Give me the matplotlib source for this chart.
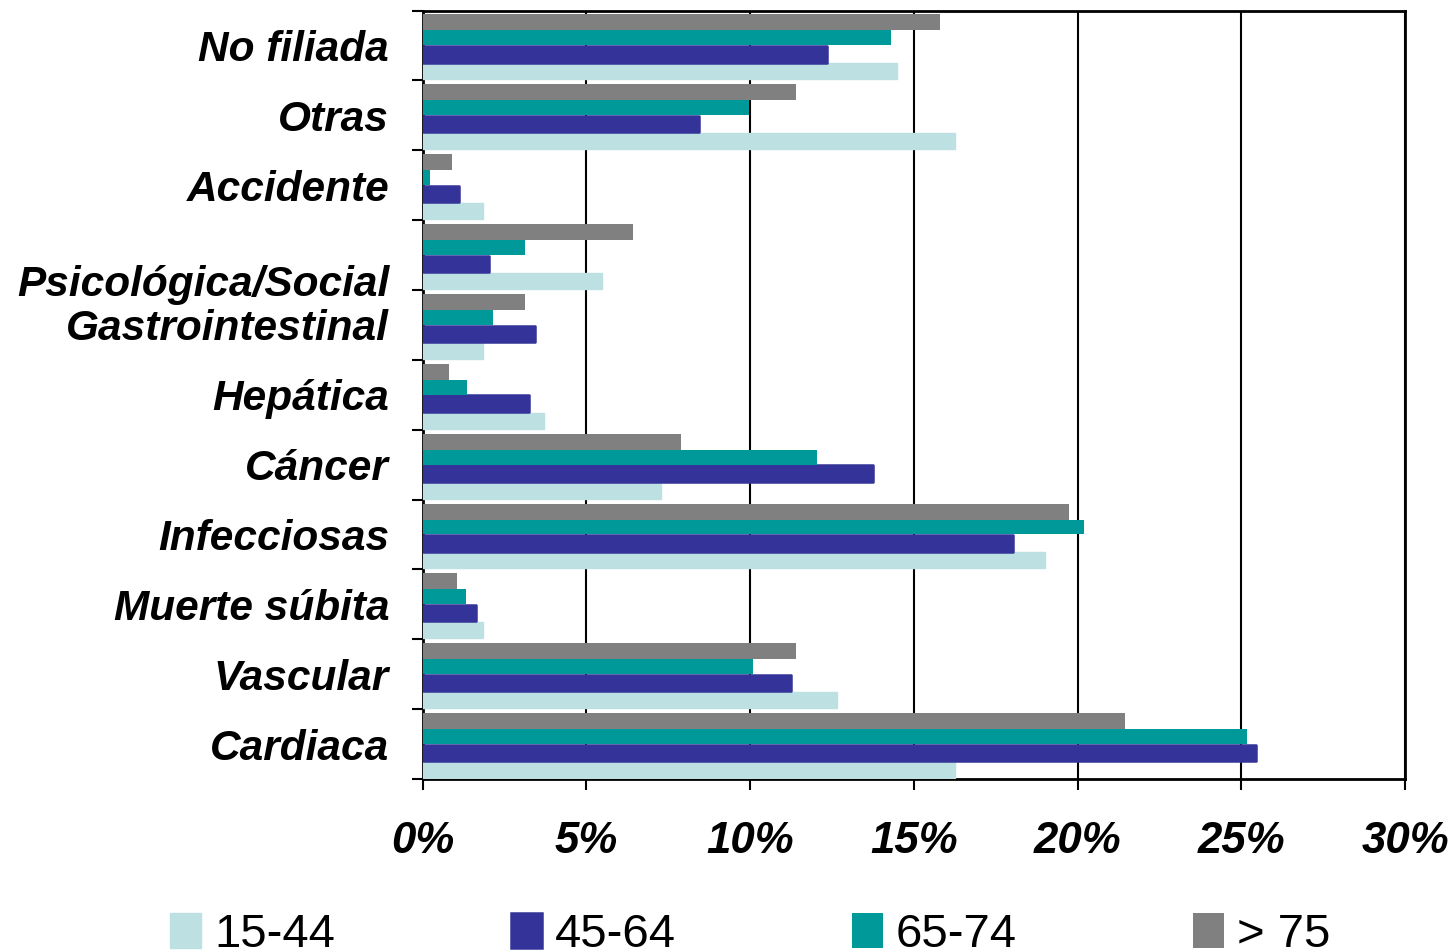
import matplotlib
matplotlib.use("Agg")
import matplotlib.pyplot as plt
import matplotlib.transforms as mtransforms
import numpy as np

categories = ["Cardiaca", "Vascular", "Muerte súbita", "Infecciosas", "Cáncer",
              "Hepática", "Gastrointestinal", "Psicológica/Social", "Accidente",
              "Otras", "No filiada"]
series_names = ["15-44", "45-64", "65-74", "> 75"]
v_15_44 = [16.26, 12.66, 1.85, 19.0, 7.28, 3.7, 1.85, 5.47, 1.85, 16.26, 14.5]
v_45_64 = [25.45, 11.25, 1.62, 18.03, 13.76, 3.25, 3.44, 2.03, 1.1, 8.44, 12.35]
v_65_74 = [25.18, 10.1, 1.33, 20.2, 12.05, 1.35, 2.14, 3.12, 0.23, 9.97, 14.3]
v_gt75 = [21.45, 11.4, 1.05, 19.74, 7.9, 0.8, 3.12, 6.42, 0.9, 11.4, 15.8]
xticks = [0, 5, 10, 15, 20, 25, 30]
xticklabels = ["0%", "5%", "10%", "15%", "20%", "25%", "30%"]

c_light = "#BDE0E3"
c_blue = "#333399"
c_teal = "#009999"
c_gray = "#808080"

fig = plt.figure(figsize=(14.51, 9.51), dpi=100)
ax = fig.add_axes([422.5 / 1451, 1 - 779 / 951, (1405 - 422.5) / 1451, (779 - 10.5) / 951])

y = np.arange(len(categories))
h_light = ax.barh(y - 0.486, v_15_44, height=0.229, align="edge", color=c_light,
                  edgecolor=c_light, linewidth=1.0, joinstyle="round", zorder=3)
h_blue = ax.barh(y - 0.245, v_45_64, height=0.235, align="edge", color=c_blue,
                 edgecolor=c_blue, linewidth=1.8, joinstyle="round", zorder=4)
h_teal = ax.barh(y, v_65_74, height=0.214, align="edge", color=c_teal,
                 linewidth=0, zorder=5)
h_gray = ax.barh(y + 0.214, v_gt75, height=0.229, align="edge", color=c_gray,
                 linewidth=0, zorder=5)

ax.set_xlim(0, 30)
ax.set_ylim(-0.5, len(categories) - 0.5)
ax.set_xticks(xticks)
ax.set_xticklabels(xticklabels, fontsize=31.5, fontweight="bold", fontstyle="italic",
                   family="Liberation Sans")
ax.set_yticks(y)
ax.set_yticklabels(categories, fontsize=30.5, fontweight="bold", fontstyle="italic",
                   family="Liberation Sans")
ax.set_yticks(np.arange(len(categories) + 1) - 0.5, minor=True)
ax.tick_params(axis="y", which="major", length=0, pad=24)
ax.tick_params(axis="y", which="minor", length=8, width=1.5, direction="out", color="black")
ax.tick_params(axis="x", which="major", length=8, width=1.5, direction="out", pad=22)

# shift Psicológica/Social label down as in the reference
for lab in ax.get_yticklabels():
    if lab.get_text() == "Psicológica/Social":
        off = mtransforms.ScaledTranslation(0, -25 / 100, fig.dpi_scale_trans)
        lab.set_transform(lab.get_transform() + off)

ax.grid(axis="x", color="black", linewidth=1.5, zorder=1)
ax.set_axisbelow(True)
for s in ax.spines.values():
    s.set_linewidth(2)
    s.set_color("black")

fig.legend([h_light, h_blue, h_teal, h_gray], series_names, loc="center left",
           bbox_to_anchor=(170 / 1451, 1 - 935 / 951), ncol=4, frameon=False,
           prop={"family": "Liberation Sans", "size": 34}, handlelength=0.65,
           handleheight=0.75, handletextpad=0.28, columnspacing=3.73, borderpad=0,
           borderaxespad=0)

fig.savefig("out.png", dpi=100)
